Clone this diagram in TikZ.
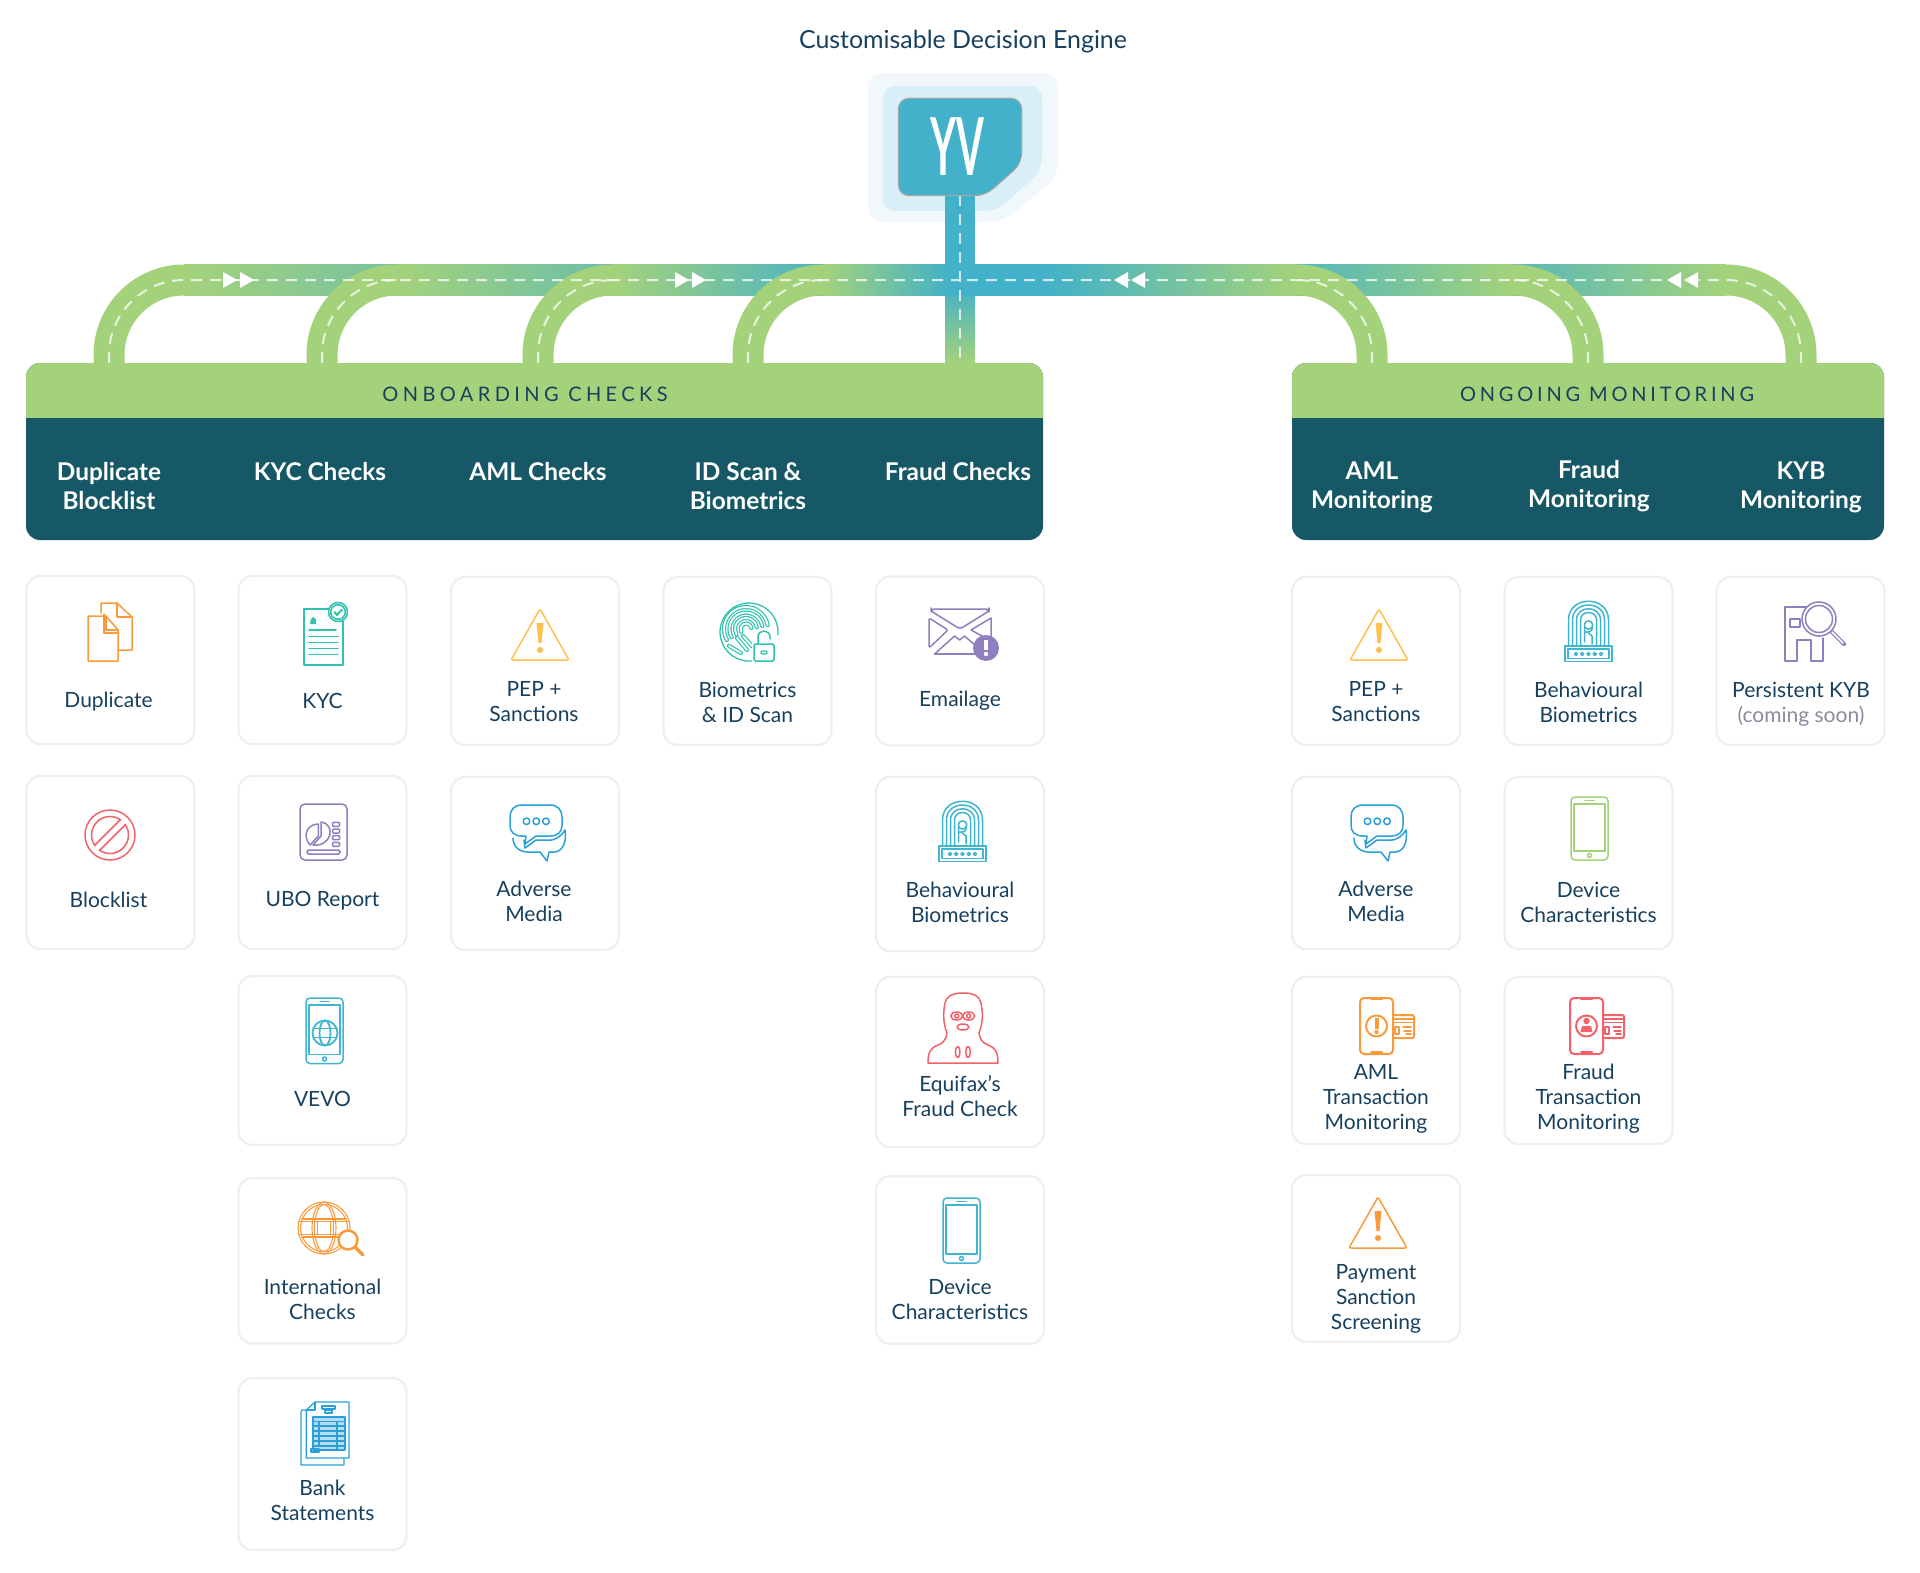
\documentclass[tikz,border=0pt]{standalone}
\usepackage{fontspec}
\setmainfont{Lato}
\newfontfamily\spacedfont[LetterSpace=22]{Lato}
\newfontfamily\spacedfontb[LetterSpace=19]{Lato}
\usepackage{tikz}
\usetikzlibrary{shapes.misc}

\definecolor{roadgreen}{HTML}{A4D27B}
\definecolor{roadblue}{HTML}{42B1C9}
\definecolor{panelteal}{HTML}{175866}
\definecolor{labelnavy}{HTML}{17405F}
\definecolor{soongray}{HTML}{8A8C9E}
\definecolor{cardedge}{HTML}{EFEFEF}
\definecolor{plateouter}{HTML}{F0F8FB}
\definecolor{plateinner}{HTML}{D9EFF7}
\definecolor{iconorange}{HTML}{F99A3D}
\definecolor{iconyellow}{HTML}{FDC14F}
\definecolor{iconred}{HTML}{F3616B}
\definecolor{iconteal}{HTML}{2FC2AE}
\definecolor{iconpurple}{HTML}{8F7FBE}
\definecolor{iconblue}{HTML}{2B9FD9}
\definecolor{iconcyan}{HTML}{3FB5CF}
\definecolor{icongreen}{HTML}{A4D27B}

\tikzset{
  card/.style={rectangle, rounded corners=14pt, fill=white, draw=cardedge, line width=2.2pt, minimum width=168pt, inner sep=0pt},
  cardtext/.style={text=labelnavy, align=center, font=\fontsize{21}{25}\selectfont},
  headtext/.style={text=white, align=center, font=\fontsize{24.4}{29}\selectfont\bfseries},
  headtitle/.style={text=labelnavy, font=\fontsize{20}{24}\selectfont\spacedfont},
  panelbase/.style={rectangle, rounded corners=14pt, fill=panelteal, inner sep=0pt},
  road/.style={draw=roadgreen, line width=31pt},
  lane/.style={draw=white, opacity=.75, line width=2pt, dash pattern=on 11pt off 8pt},
  icon/.style={line width=1.5pt, line join=round, line cap=round},
}

\newcommand{\iconwarn}[2]{\begin{scope}[shift={(#1)}]
  \draw[icon, draw=#2, rounded corners=2pt] (29,0) -- (58,51) -- (0,51) -- cycle;
  \fill[#2] (25.5,14) -- (32.5,14) -- (30.5,34) -- (27.5,34) -- cycle;
  \fill[#2] (29,41) circle (3);
\end{scope}}

\newcommand{\iconbubble}[1]{\begin{scope}[shift={(#1)}, icon, draw=iconblue]
  \draw (12,0) -- (40,0) .. controls (48,0) and (52,5) .. (52,13) -- (52,20) .. controls (52,27) and (48,31) .. (40,31) -- (26,31) -- (15,39) -- (16,31) -- (12,31) .. controls (4,31) and (0,27) .. (0,20) -- (0,12) .. controls (0,5) and (4,0) .. (12,0) -- cycle;
  \draw (3,33) .. controls (3,42) and (10,47) .. (18,47) -- (30,47) -- (37,56) -- (39,47) -- (44,47) .. controls (52,47) and (57,38) .. (55,25) .. controls (52,30) and (46,36) .. (38,35) -- (26,35) -- (15,43) -- (14,35);
  \draw (16.5,16.3) circle (3.3) (26.3,16.3) circle (3.3) (36,16.3) circle (3.3);
\end{scope}}

\newcommand{\iconphone}[3]{\begin{scope}[shift={(#1)}, icon, draw=#2]
  \draw[rounded corners=4pt] (0,0) rectangle (37,#3);
  \draw (3,7) rectangle (34,{#3-9});
  \draw (14,3.5) -- (23,3.5);
  \draw (18.5,{#3-4.5}) circle (2);
\end{scope}}

\newcommand{\iconthumb}[1]{\begin{scope}[shift={(#1)}, icon, draw=iconcyan, line width=1.5pt]
  \foreach \a in {20,16,12,8}
    \draw ({23.5-\a},46) -- ({23.5-\a},20) .. controls ({23.5-\a},{20-1.25*\a}) and ({23.5+\a},{20-1.25*\a}) .. ({23.5+\a},20) -- ({23.5+\a},46);
  \draw (23.5,25) circle (4.2);
  \draw (19.5,27) -- (19.5,42) (27.5,27) .. controls (27.5,33) and (22,32) .. (19.5,32);
  \draw (23.5,33) -- (27,36) -- (27,44);
  \draw[fill=white] (0,46) rectangle (47,61.5);
  \draw (3,49) rectangle (44,58.5);
  \foreach \x in {11,17.2,23.5,29.8,36}
    \draw (\x,54) circle (1.6);
\end{scope}}

\newcommand{\iconpay}[3]{\begin{scope}[shift={(#1)}, icon, draw=#2, line width=2pt]
  \draw[rounded corners=4pt] (0,0) rectangle (33,56);
  \draw (11,1) -- (22,1) (11,54) -- (22,54);
  \draw[rounded corners=2pt] (33,17) -- (54,17) -- (54,40) -- (33,40);
  \draw[line width=1.3pt] (33,21) -- (54,21) (33,24.5) -- (54,24.5);
  \draw (35,29) rectangle (39,36);
  \draw[line width=1.3pt] (43,29) -- (51,29) (44,33) -- (51,33) (46,36) -- (51,36);
  \draw (16.5,28) circle (10.5);
  #3
\end{scope}}

\begin{document}
\begin{tikzpicture}[x=1pt, y=-1pt]
  \useasboundingbox (0,0) rectangle (1920,1573);

  \node (engineTitle) at (963,42) [text=labelnavy, font=\fontsize{24.9}{29}\selectfont] {Customisable Decision Engine};

  \coordinate (hub) at (960,280);
  \coordinate (dupRoad) at (109,363);
  \coordinate (kycRoad) at (322,363);
  \coordinate (amlRoad) at (538,363);
  \coordinate (idRoad) at (748,363);
  \coordinate (fraudRoad) at (960,363);
  \coordinate (amlMonRoad) at (1372,363);
  \coordinate (fraudMonRoad) at (1588,363);
  \coordinate (kybRoad) at (1801,363);
  \coordinate (logoFoot) at (960,195);

  \fill[plateouter, rounded corners=14pt] (868,73) -- (1058,73) -- (1058,177) -- (1002,222) -- (868,222) -- cycle;
  \fill[plateinner, rounded corners=12pt] (883,86) -- (1042,86) -- (1042,170) -- (997,211) -- (883,211) -- cycle;

  \fill[roadblue] (945,195) rectangle (975,285);
  \shade[top color=roadblue, bottom color=roadgreen] (945,285) rectangle (975,363);
  \fill[roadblue] (945,264.5) rectangle (1046,295.5);

  \shade[left color=roadgreen, right color=roadblue] (184,264.5) rectangle (640,295.5);
  \draw[road, rounded corners=75pt] (dupRoad) -- (dupRoad |- hub) -- ++(76,0);
  \shade[left color=roadgreen, right color=roadblue] (397,264.5) rectangle (760,295.5);
  \draw[road, rounded corners=75pt] (kycRoad) -- (kycRoad |- hub) -- ++(76,0);
  \shade[left color=roadgreen, right color=roadblue] (613,264.5) rectangle (840,295.5);
  \draw[road, rounded corners=75pt] (amlRoad) -- (amlRoad |- hub) -- ++(76,0);
  \shade[left color=roadgreen, right color=roadblue] (823,264.5) rectangle (950,295.5);
  \draw[road, rounded corners=75pt] (idRoad) -- (idRoad |- hub) -- ++(76,0);

  \shade[left color=roadblue, right color=roadgreen] (1450,264.5) rectangle (1726,295.5);
  \draw[road, rounded corners=75pt] (kybRoad) -- (kybRoad |- hub) -- ++(-76,0);
  \shade[left color=roadblue, right color=roadgreen] (1250,264.5) rectangle (1513,295.5);
  \draw[road, rounded corners=75pt] (fraudMonRoad) -- (fraudMonRoad |- hub) -- ++(-76,0);
  \shade[left color=roadblue, right color=roadgreen] (1045,264.5) rectangle (1297,295.5);
  \draw[road, rounded corners=75pt] (amlMonRoad) -- (amlMonRoad |- hub) -- ++(-76,0);

  \draw[lane] (logoFoot) -- (fraudRoad);
  \draw[lane, rounded corners=75pt] (dupRoad) -- (dupRoad |- hub) -- (hub);
  \draw[lane, rounded corners=75pt] (kybRoad) -- (kybRoad |- hub) -- (hub);
  \draw[lane, rounded corners=75pt] (kycRoad) -- (kycRoad |- hub) -- ++(75,0);
  \draw[lane, rounded corners=75pt] (amlRoad) -- (amlRoad |- hub) -- ++(75,0);
  \draw[lane, rounded corners=75pt] (idRoad) -- (idRoad |- hub) -- ++(75,0);
  \draw[lane, rounded corners=75pt] (amlMonRoad) -- (amlMonRoad |- hub) -- ++(-75,0);
  \draw[lane, rounded corners=75pt] (fraudMonRoad) -- (fraudMonRoad |- hub) -- ++(-75,0);

  \foreach \x in {223,240,675,692}
    \fill[white] (\x,272) -- (\x+14,280) -- (\x,288) -- cycle;
  \foreach \x in {1128,1145,1681,1698}
    \fill[white] (\x,272) -- (\x-14,280) -- (\x,288) -- cycle;

  \draw[black!35, line width=2.5pt, rounded corners=10pt] (899,99) -- (1021,99) -- (1021,163) -- (985,195) -- (899,195) -- cycle;
  \fill[roadblue, rounded corners=10pt] (899,99) -- (1021,99) -- (1021,163) -- (985,195) -- (899,195) -- cycle;
  \node (logo) at (957,147) [text=white, font=\fontsize{80}{80}\selectfont\bfseries] {\scalebox{.5}[1]{YV}};

  \node (onboardPanel) at (534.5,451.5) [panelbase, minimum width=1017pt, minimum height=177pt] {};
  \fill[roadgreen, rounded corners=14pt] (26,363) rectangle (1043,400);
  \fill[roadgreen] (26,385) rectangle (1043,418);
  \node (onboardTitle) at (525,394) [headtitle] {ONBOARDING CHECKS};

  \node (monitorPanel) at (1588,451.5) [panelbase, minimum width=592pt, minimum height=177pt] {};
  \fill[roadgreen, rounded corners=14pt] (1292,363) rectangle (1884,400);
  \fill[roadgreen] (1292,385) rectangle (1884,418);
  \node (monitorTitle) at (1607,394) [headtitle, font=\fontsize{20}{24}\selectfont\spacedfontb] {ONGOING MONITORING};

  \node (dupHead) at (109,486) [headtext] {Duplicate\\Blocklist};
  \node (kycHead) at (320,472) [headtext] {KYC Checks};
  \node (amlHead) at (538,472) [headtext] {AML Checks};
  \node (idHead) at (748,486) [headtext] {ID Scan \&\\Biometrics};
  \node (fraudHead) at (958,472) [headtext] {Fraud Checks};
  \node (amlMonHead) at (1372,487) [headtext] {AML\\Monitoring};
  \node (fraudMonHead) at (1589,486.5) [headtext] {Fraud\\Monitoring};
  \node (kybHead) at (1801,487) [headtext] {KYB\\Monitoring};

  \node (dupCard) at (110.5,660) [card, minimum height=168pt] {};
  \node (blockCard) at (110.5,862.5) [card, minimum height=173pt] {};
  \node (kycCard) at (322.5,660) [card, minimum height=168pt] {};
  \node (uboCard) at (322.5,862.5) [card, minimum height=173pt] {};
  \node (vevoCard) at (322.5,1060.5) [card, minimum height=169pt] {};
  \node (intlCard) at (322.5,1260.7) [card, minimum height=165.5pt] {};
  \node (bankCard) at (322.5,1464) [card, minimum height=172pt] {};
  \node (pepCard) at (535,661) [card, minimum height=168pt] {};
  \node (mediaCard) at (535,863.5) [card, minimum height=173pt] {};
  \node (bioCard) at (747.5,661) [card, minimum height=168pt] {};
  \node (emailCard) at (960,661) [card, minimum height=169pt] {};
  \node (behavCard) at (960,864) [card, minimum height=174pt] {};
  \node (equifaxCard) at (960,1062) [card, minimum height=170pt] {};
  \node (deviceCard) at (960,1260) [card, minimum height=167.5pt] {};
  \node (pepMonCard) at (1376,661) [card, minimum height=168pt] {};
  \node (mediaMonCard) at (1376,863) [card, minimum height=172pt] {};
  \node (amlTxCard) at (1376,1060.5) [card, minimum height=167pt] {};
  \node (payCard) at (1376,1258.5) [card, minimum height=167pt] {};
  \node (behavMonCard) at (1588.5,661) [card, minimum height=168pt] {};
  \node (deviceMonCard) at (1588.5,863) [card, minimum height=172pt] {};
  \node (fraudTxCard) at (1588.5,1060.5) [card, minimum height=167pt] {};
  \node (kybCard) at (1800.5,661) [card, minimum height=168pt] {};

  \node (dupText) at (108.5,701.5) [cardtext] {Duplicate};
  \node (blockText) at (108.5,899.5) [cardtext] {Blocklist};
  \node (kycText) at (322.5,700.5) [cardtext] {KYC};
  \node (uboText) at (322.5,901) [cardtext] {UBO Report};
  \node (vevoText) at (322.5,1098.5) [cardtext] {VEVO};
  \node (intlText) at (322.5,1299.5) [cardtext] {International\\Checks};
  \node (bankText) at (322.5,1500) [cardtext] {Bank\\Statements};
  \node (pepText) at (534,702) [cardtext] {PEP +\\Sanctions};
  \node (mediaText) at (534,901.5) [cardtext] {Adverse\\Media};
  \node (bioText) at (747.5,702) [cardtext] {Biometrics\\\& ID Scan};
  \node (emailText) at (960,701) [cardtext] {Emailage};
  \node (behavText) at (960,902) [cardtext] {Behavioural\\Biometrics};
  \node (equifaxText) at (960,1096) [cardtext] {Equifax’s\\Fraud Check};
  \node (deviceText) at (960,1299) [cardtext] {Device\\Characteristics};
  \node (pepMonText) at (1376,702) [cardtext] {PEP +\\Sanctions};
  \node (mediaMonText) at (1376,901.5) [cardtext] {Adverse\\Media};
  \node (amlTxText) at (1376,1099) [cardtext] {AML\\Transaction\\Monitoring};
  \node (payText) at (1376,1298.5) [cardtext] {Payment\\Sanction\\Screening};
  \node (behavMonText) at (1588.5,702) [cardtext] {Behavioural\\Biometrics};
  \node (deviceMonText) at (1588.5,902) [cardtext] {Device\\Characteristics};
  \node (fraudTxText) at (1588.5,1099) [cardtext] {Fraud\\Transaction\\Monitoring};
  \node (kybText) at (1801,704.5) [cardtext] {Persistent KYB\\{\color{soongray}(coming soon)}};

  \begin{scope}[shift={(88,603)}, icon, draw=iconorange]
    \draw (13,10) -- (13,0) -- (29,0) -- (44,14) -- (44,47) -- (30,47);
    \draw (29,0) -- (29,14) -- (44,14);
    \draw (0,13) -- (18,13) -- (30,27) -- (30,58) -- (0,58) -- cycle;
    \draw (18,13) -- (18,27) -- (30,27);
    \draw (16,11) -- (16,30) -- (30,30);
  \end{scope}

  \begin{scope}[shift={(110,835)}, icon, draw=iconred]
    \draw (0,0) circle (25);
    \draw (0,0) circle (18.5);
    \draw[white, line width=5pt, line cap=butt] (-14,14) -- (14,-14);
    \draw (-10.4,15.4) -- (15.4,-10.4);
    \draw (-15.4,10.4) -- (10.4,-15.4);
  \end{scope}

  \begin{scope}[shift={(304,609)}, icon, draw=iconteal]
    \draw (25,0) -- (0,0) -- (0,56) -- (39,56) -- (39,12);
    \draw[fill=white] (34,3) circle (9.5);
    \draw (34,3) circle (7.3);
    \draw[line width=2pt] (30.5,3) -- (33,6) -- (38,0.5);
    \foreach \y in {27.7,33.3,39.3,45.7}
      \draw (5,\y) -- (34,\y);
    \draw (5,21) -- (32,21);
    \fill[iconteal] (6,15) -- (7,10) -- (9,8) -- (12,10) -- (12,15) -- cycle;
  \end{scope}

  \begin{scope}[shift={(300,804)}, icon, draw=iconpurple]
    \draw[rounded corners=5pt] (0,0) rectangle (47,56);
    \draw (18.4,20) -- (18.4,32) -- (10,41) .. controls (2,32) and (7,20) .. (18.4,20) -- cycle;
    \draw (21,18) .. controls (36,20) and (32,43) .. (13,41) -- (21,32) -- cycle;
    \foreach \y in {18.3,25,31.6,38.3}
      \draw[rounded corners=1pt] (32.6,\y) rectangle (39.6,\y+4);
    \draw[rounded corners=1.5pt] (7,46) rectangle (40,50);
  \end{scope}

  \iconwarn{511,609}{iconyellow}
  \iconwarn{1350,609}{iconyellow}
  \iconwarn{1349,1197}{iconorange}
  \iconbubble{510,805}
  \iconbubble{1351,805}

  \iconphone{306,998}{iconcyan}{65.5}
  \begin{scope}[shift={(325,1033)}, icon, draw=iconcyan, line width=1.8pt]
    \draw (0,0) circle (12.5);
    \draw (0,0) ellipse (5.5 and 12.5);
    \draw (-11,-4.5) -- (11,-4.5) (-11,4.5) -- (11,4.5);
  \end{scope}
  \iconphone{943,1198}{iconcyan}{65}
  \iconphone{1571,797}{icongreen}{63}

  \begin{scope}[shift={(324,1228)}, icon, draw=iconorange, line width=1.1pt]
    \draw (0,0) circle (26);
    \draw (0,0) circle (23.5);
    \draw (0,0) ellipse (12 and 26);
    \draw (0,0) ellipse (9.5 and 23.5);
    \draw (-22,-9) -- (22,-9) (-24,-6.5) -- (24,-6.5) (-24,6.5) -- (24,6.5) (-22,9) -- (22,9);
    \draw (-6.5,-6.5) rectangle (6.5,6.5);
    \draw[fill=white, line width=2.5pt] (24,12) circle (9.5);
    \draw[line width=3.2pt] (31,19) -- (39,27);
  \end{scope}

  \begin{scope}[shift={(301,1402)}, icon, draw=iconblue, line width=1.3pt]
    \draw (5.3,8) -- (1,8) -- (0,10) -- (0,63) -- (43,63) -- (43,56);
    \draw (14,0) -- (48,0) -- (48,56) -- (5.3,56) -- (5.3,8) -- cycle;
    \draw (14,0) -- (14,8) -- (5.3,8);
    \draw (21,4) rectangle (34,7);
    \draw (24,8) rectangle (31,11);
    \fill[iconblue!35] (12,15) rectangle (44,48);
    \draw (12,15) rectangle (44,48);
    \draw (12,19.5) -- (44,19.5);
    \foreach \y in {24,29,34,39,44}
      \draw (12,\y) -- (44,\y);
    \draw (18,19.5) -- (18,44) (36,19.5) -- (36,48);
    \draw (10,47) rectangle (18,50);
  \end{scope}

  \begin{scope}[shift={(749,632)}, icon, draw=iconteal, line width=1.3pt]
    \draw (20,29) -- (0,29) arc (90:365:29);
    \foreach \r in {22,16.5,11,5.5} {
      \draw[iconteal, line width=4.2pt] ({-3+\r*cos(150)},{-3+\r*sin(150)}) arc (150:350:\r);
      \draw[white, line width=1.8pt] ({-3+\r*cos(150)},{-3+\r*sin(150)}) arc (150:350:\r);
    }
    \draw[iconteal, line width=4.2pt] (-20,14) -- (-8,21) (-12,6) -- (-2,18) (-6,4) -- (3,14);
    \draw[white, line width=1.8pt] (-20,14) -- (-8,21) (-12,6) -- (-2,18) (-6,4) -- (3,14);
    \fill[white] (3,0) rectangle (27,31);
    \draw[fill=white, line width=1.5pt, rounded corners=1.5pt] (5,12) rectangle (25,29);
    \draw[line width=1.5pt] (9,12) -- (9,5) .. controls (9,-3) and (21,-3) .. (21,5) -- (21,7);
    \draw[rounded corners=1pt] (12,19) rectangle (18,22);
  \end{scope}

  \begin{scope}[shift={(929,609)}, icon, draw=iconpurple]
    \draw[rounded corners=3pt] (2,0) -- (60,0) -- (60,2) -- (31,20) -- (2,2) -- cycle;
    \draw[rounded corners=2pt] (0,9) -- (19,21) -- (0,39) -- cycle;
    \draw (62,9) -- (42,21) -- (62,32) -- cycle;
    \draw (5.6,45) -- (25.6,27) -- (30.6,31) -- (35.6,27) -- (47,37);
    \draw (5.6,45) -- (46,45);
    \fill[iconpurple] (57,39) circle (13);
    \fill[white] (55,31) rectangle (59,41);
    \fill[white] (57,45) circle (2.2);
  \end{scope}

  \iconthumb{939,800}
  \iconthumb{1565,600}

  \begin{scope}[shift={(928,993)}, icon, draw=iconred]
    \draw (0,70) -- (70,70) .. controls (70,60) and (68,55) .. (60,52) .. controls (55,50) and (52,47) .. (51,40) .. controls (55,30) and (55,20) .. (53,10) .. controls (52,3) and (45,0) .. (35,0) .. controls (25,0) and (18,3) .. (17,10) .. controls (15,20) and (15,30) .. (19,40) .. controls (18,47) and (15,50) .. (10,52) .. controls (2,55) and (0,60) .. (0,70) -- cycle;
    \draw (28.7,23) ellipse (6 and 4) (40.7,23) ellipse (6 and 4);
    \draw (28.7,23) circle (2) (40.7,23) circle (2);
    \draw (35,34) ellipse (6 and 3);
    \draw (29.7,59) ellipse (2.3 and 5.5) (40,59) ellipse (2.3 and 5.5);
  \end{scope}

  \iconpay{1360,998}{iconorange}{
    \fill[iconorange] (14.5,20) rectangle (18.5,31);
    \fill[iconorange] (16.5,34) circle (2.2);
  }
  \iconpay{1570,998}{iconred}{
    \fill[iconred] (16.5,23) circle (3.2);
    \fill[iconred] (10.5,34) -- (12,28) -- (21,28) -- (22.5,34) -- cycle;
  }

  \begin{scope}[shift={(1785,601)}, icon, draw=iconpurple]
    \draw (22,6) -- (0,6) -- (0,60) -- (12,60) -- (12,39) -- (26,39) -- (26,60) -- (38,60) -- (38,37);
    \draw (5,18) rectangle (15,26);
    \draw[line width=4.2pt] (46,30) -- (59,43);
    \draw[white, line width=1.6pt] (47,31) -- (58,42);
    \draw[fill=white] (34,18) circle (17);
    \draw (34,18) circle (13.5);
  \end{scope}
\end{tikzpicture}
\end{document}
